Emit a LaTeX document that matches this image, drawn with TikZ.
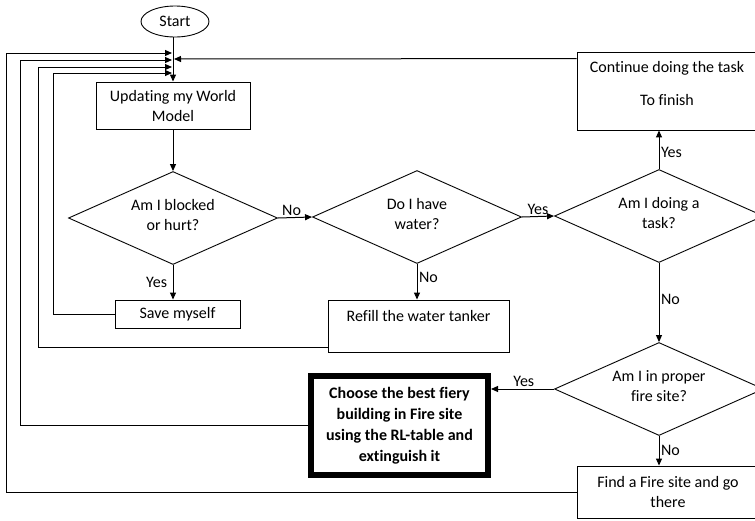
\documentclass[tikz,border=0pt]{standalone}
\usepackage{fontspec}
\setmainfont{Carlito}[Ligatures=NoCommon]
\usetikzlibrary{arrows.meta,positioning,calc,shapes.geometric}
\tikzset{
  terminal/.style={ellipse, draw=black, line width=0.9pt, minimum width=68pt, minimum height=31pt, inner sep=0pt},
  process/.style={rectangle, draw=black, line width=0.9pt, inner sep=2pt, align=center},
  decision/.style={diamond, aspect=2.25, draw=black, line width=0.9pt, minimum width=209pt, minimum height=93pt, inner sep=0pt, text depth=6pt, align=center},
  firebox/.style={rectangle, draw=black, line width=6pt, inner sep=2pt, align=center, font=\fontsize{16}{21}\selectfont\bfseries},
  arrow/.style={-{Triangle[length=7pt,width=6pt]}, line width=1pt},
  answer/.style={inner sep=1.5pt}
}

\begin{document}
\begin{tikzpicture}[x=1pt, y=-1pt, font=\fontsize{16}{20}\selectfont]
  \useasboundingbox (0,0) rectangle (755,520);
  \clip (0,0) rectangle (755,520);

  % main column
  \node[terminal] (start) at (175,21.5) {Start};
  \node[process, minimum width=154pt, minimum height=47pt] (update) at (173,105.5) {Updating my World\\Model};
  \node[decision] (blocked) at (173,218) {Am I blocked\\or hurt?};
  \node[process, minimum width=125pt, minimum height=28pt] (save) at (177.5,314) {Save myself};

  % water and task checks
  \node[decision] (water) at (417,217) {Do I have\\water?};
  \node[process, minimum width=181pt, minimum height=52pt, text depth=21pt] (refill) at (418.5,326) {Refill the water tanker};
  \node[decision] (task) at (659,216) {Am I doing a\\task?};
  \node[process, minimum width=180pt, minimum height=78pt, text depth=16pt] (cont) at (667,91) {Continue doing the task\\[13pt]To finish};
  \node[decision] (site) at (659,389) {Am I in proper\\fire site?};
  \node[firebox, minimum width=177pt, minimum height=99pt] (choose) at (399.5,425.5) {Choose the best fiery\\building in Fire site\\using the RL-table and\\extinguish it};
  \node[process, minimum width=182pt, minimum height=52pt] (find) at (668,492) {Find a Fire site and go\\there};

  % entry points on the column
  \coordinate (in1) at (172,53);
  \coordinate (in2) at (172,60);
  \coordinate (in3) at (172,67);
  \coordinate (in4) at (172,73);
  \coordinate (in5) at (174,59);
  \coordinate (rail1) at (6,0);
  \coordinate (rail2) at (20,0);
  \coordinate (rail3) at (38,0);
  \coordinate (rail4) at (53,0);

  % flow
  \draw[arrow] (start.south -| update) -- (update);
  \draw[arrow] (update) -- (blocked);
  \draw[arrow] (blocked.east) -- node[above, answer, pos=0.4] {No} (water.west);
  \draw[arrow] (water.east) -- node[above, answer] {Yes} (task.west);
  \draw[arrow] (blocked.south) -- node[left, answer, xshift=-4pt] {Yes} (blocked.south |- save.north);
  \draw[arrow] (water.south) -- node[right, answer, pos=0.38] {No} (water.south |- refill.north);
  \draw[arrow] (task.north) -- node[right, answer, pos=0.42] {Yes} (task.north |- cont.south);
  \draw[arrow] (task.south) -- node[right, answer, pos=0.46] {No} (site.north);
  \draw[arrow] (site.west) -- node[above, answer, pos=0.48] {Yes} (site.west -| choose.east);
  \draw[arrow] (site.south) -- node[right, answer] {No} (site.south |- find.north);

  % loops back to the world model
  \draw[arrow] (find.west) -| (rail1 |- in1) -- (in1);
  \draw[arrow] (choose.west) -| (rail2 |- in2) -- (in2);
  \draw[arrow] ([yshift=5pt]refill.south west) -| (rail3 |- in3) -- (in3);
  \draw[arrow] (save.west) -| (rail4 |- in4) -- (in4);
  \draw[arrow] ([yshift=-7pt]cont.north west) -- (in5);
\end{tikzpicture}
\end{document}
